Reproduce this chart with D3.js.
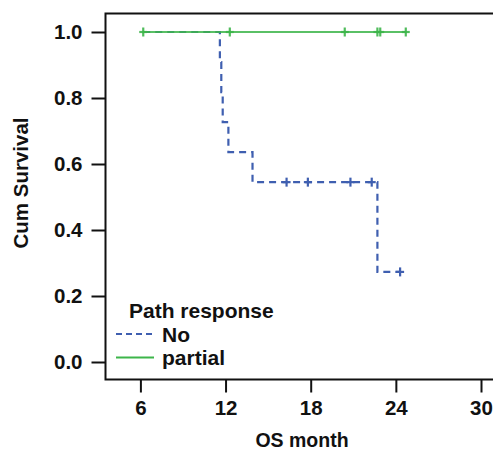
<!DOCTYPE html>
<html>
<head>
<script src="https://d3js.org/d3.v7.min.js"></script>
<style>
  body { margin: 0; background: #fff; }
  text { font-family: "Liberation Sans", Arial, sans-serif; font-weight: bold; fill: #111; }
</style>
</head>
<body>
<div id="chart"></div>
<script>
// survival steps
const noTime = [6.2, 11.6, 11.7, 11.8, 12.2, 13.9, 22.7, 24.3];
const noSurv = [1, 0.909, 0.818, 0.727, 0.636, 0.545, 0.273, 0.273];
const noCensor = [16.3, 17.8, 20.8, 22.3, 24.3];

const partialTime = [6.2, 24.7];
const partialSurv = [1, 1];
const partialCensor = [6.2, 12.3, 20.4, 22.7, 22.9, 24.7];

const xTicks = [6, 12, 18, 24, 30];
const yTicks = [0, 0.2, 0.4, 0.6, 0.8, 1.0];
const groups = ["No", "partial"];

const width = 493, height = 450;
const blue = "#3f5fb0", green = "#3db54a";

const svg = d3.select("#chart").append("svg")
  .attr("width", width).attr("height", height);

const x = d3.scaleLinear().domain([6, 30]).range([140.4, 481]);
const y = d3.scaleLinear().domain([0, 1]).range([362, 32]);

const frameL = 105.5, frameT = 13.5, frameB = 379.5;

// frame: top, left, bottom (no right side)
svg.append("path")
  .attr("d", `M${width},${frameT}H${frameL}V${frameB}H${width}`)
  .attr("fill", "none").attr("stroke", "#111").attr("stroke-width", 2);

const yAxis = svg.append("g")
  .attr("transform", `translate(${frameL},0)`)
  .call(d3.axisLeft(y).tickValues(yTicks).tickFormat(d3.format(".1f")).tickSize(14).tickSizeOuter(0));
yAxis.select(".domain").remove();
yAxis.selectAll("line").attr("stroke", "#111").attr("stroke-width", 2);
yAxis.selectAll("text").attr("x", -23).attr("font-size", 20.5).attr("fill", "#111")
  .style("font-family", "'Liberation Sans', Arial, sans-serif").style("font-weight", "bold");

const xAxis = svg.append("g")
  .attr("transform", `translate(0,${frameB})`)
  .call(d3.axisBottom(x).tickValues(xTicks).tickSize(13).tickSizeOuter(0));
xAxis.select(".domain").remove();
xAxis.selectAll("line").attr("stroke", "#111").attr("stroke-width", 2);
xAxis.selectAll("text").attr("y", 21).attr("font-size", 20.5).attr("fill", "#111")
  .style("font-family", "'Liberation Sans', Arial, sans-serif").style("font-weight", "bold");

svg.append("text")
  .attr("transform", `translate(28,183) rotate(-90)`)
  .attr("text-anchor", "middle")
  .attr("font-size", 20.5)
  .text("Cum Survival");

svg.append("text")
  .attr("x", 302).attr("y", 447)
  .attr("text-anchor", "middle")
  .attr("font-size", 19.5)
  .text("OS month");

const step = d3.line().x(d => x(d[0])).y(d => y(d[1])).curve(d3.curveStepAfter);

function censorMarks(times, survAt, color, opacity) {
  const g = svg.append("g").attr("stroke", color).attr("stroke-width", 2.2).attr("stroke-opacity", opacity);
  times.forEach(t => {
    const cx = x(t), cy = y(survAt(t));
    g.append("line").attr("x1", cx).attr("x2", cx).attr("y1", cy - 4.5).attr("y2", cy + 4.5);
    g.append("line").attr("x1", cx - 4).attr("x2", cx + 4).attr("y1", cy).attr("y2", cy);
  });
}

function survAtFn(times, surv) {
  return t => {
    let s = surv[0];
    times.forEach((tt, i) => { if (tt <= t) s = surv[i]; });
    return s;
  };
}

// No group
svg.append("path")
  .attr("d", step(noTime.map((t, i) => [t, noSurv[i]])))
  .attr("fill", "none").attr("stroke", blue).attr("stroke-width", 2.2)
  .attr("stroke-dasharray", "7,5");
censorMarks(noCensor, survAtFn(noTime, noSurv), blue, 1);

// partial group
svg.append("path")
  .attr("d", step(partialTime.map((t, i) => [t, partialSurv[i]])))
  .attr("fill", "none").attr("stroke", green).attr("stroke-width", 2.2)
  .attr("stroke-opacity", 0.85);
censorMarks(partialCensor, survAtFn(partialTime, partialSurv), green, 0.9);

// legend
svg.append("text").attr("x", 129).attr("y", 318).attr("font-size", 21).text("Path response");
const leg = svg.append("g");
groups.forEach((name, i) => {
  const ly = 334 + i * 23.5;
  leg.append("line").attr("x1", 116).attr("x2", 154).attr("y1", ly).attr("y2", ly)
    .attr("stroke", i === 0 ? blue : green).attr("stroke-width", 2)
    .attr("stroke-dasharray", i === 0 ? "6,4" : null);
  leg.append("text").attr("x", 162).attr("y", ly + 7.5).attr("font-size", 21).text(name);
});
</script>
</body>
</html>
